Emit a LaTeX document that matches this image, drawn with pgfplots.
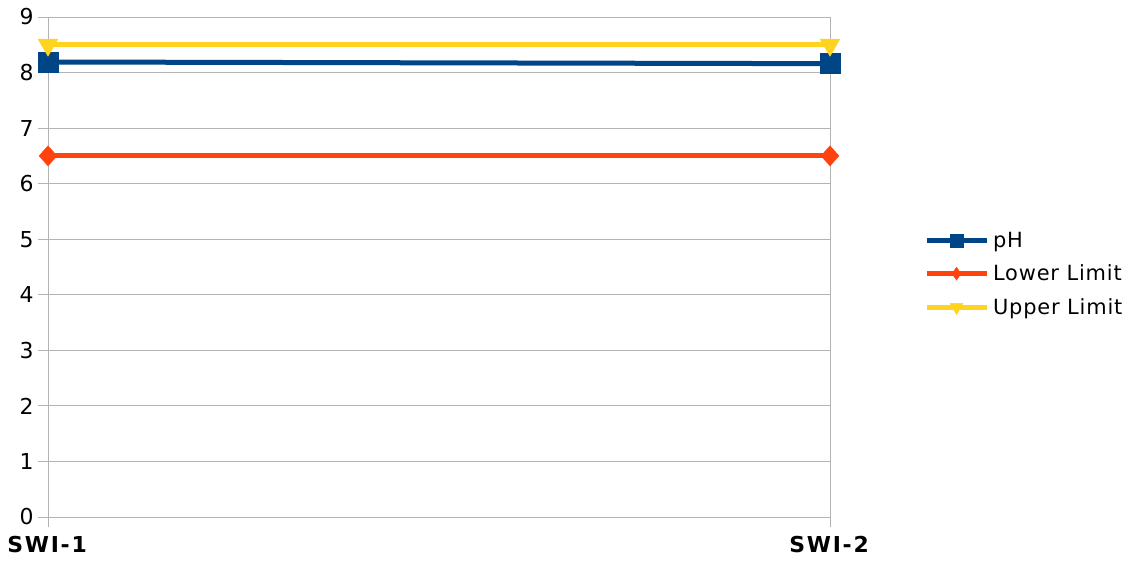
\documentclass[border=0pt]{standalone}
\usepackage{pgfplots}
\pgfplotsset{compat=1.18}
\usepackage{fontspec}
\setmainfont{DejaVu Sans}
\newfontfamily\tickfont{DejaVu Sans}[LetterSpace=8]
\newfontfamily\legfont{DejaVu Sans}[LetterSpace=4]
\definecolor{cph}{HTML}{004586}
\definecolor{clow}{HTML}{FF420E}
\definecolor{cup}{HTML}{FFD320}
\definecolor{cgrid}{HTML}{B3B3B3}
\begin{document}
\begin{tikzpicture}
\useasboundingbox (0,0) rectangle (1133bp,565bp);
\begin{axis}[
  at={(48bp,48bp)}, anchor=south west,
  scale only axis, width=782bp, height=500bp,
  xmin=0, xmax=1, ymin=0, ymax=9,
  xtick={0,1}, xticklabels={\textbf{SWI-1},\textbf{SWI-2}},
  ytick={0,1,...,9},
  tick pos=left, tick align=outside, major tick length=10bp,
  axis line style={draw=cgrid, line width=0.8bp},
  tick style={draw=cgrid, line width=0.8bp},
  grid=major, grid style={draw=cgrid, line width=0.8bp},
  /pgf/number format/assume math mode=true,
  ticklabel style={font=\tickfont\fontsize{22}{26}\selectfont, text=black},
  xticklabel style={yshift=-6bp},
  yticklabel style={xshift=-1bp},
  legend style={at={(1.1200,0.486)}, anchor=west, draw=none, fill=none,
    font=\legfont\fontsize{21}{25}\selectfont, row sep=16bp, inner sep=0pt,
    nodes={inner xsep=4bp, inner ysep=0pt}},
  legend cell align=left,
  legend image code/.code={\draw[mark repeat=2,mark phase=2,#1] plot coordinates {(0bp,0bp) (30bp,0bp) (60bp,0bp)};},
  clip=false,
]
\addplot[cph, line width=5bp, mark=square*, mark size=10bp, mark options={solid, line width=0.4bp},
  legend image post style={mark size=6.5bp}] coordinates {(0,8.19) (1,8.16)};
\addlegendentry{pH}
\addplot[clow, line width=5bp, mark=diamond*, mark size=10bp, mark options={solid, line width=0.4bp, xscale=1.2},
  legend image post style={mark size=6.5bp, mark options={solid, line width=0.4bp, xscale=0.9}}] coordinates {(0,6.5) (1,6.5)};
\addlegendentry{Lower Limit}
\addplot[cup, line width=5bp, mark=triangle*, mark size=11.5bp, mark options={solid, line width=0.4bp, rotate=180},
  legend image post style={mark size=7.5bp}] coordinates {(0,8.5) (1,8.5)};
\addlegendentry{Upper Limit}
\end{axis}
\end{tikzpicture}
\end{document}
